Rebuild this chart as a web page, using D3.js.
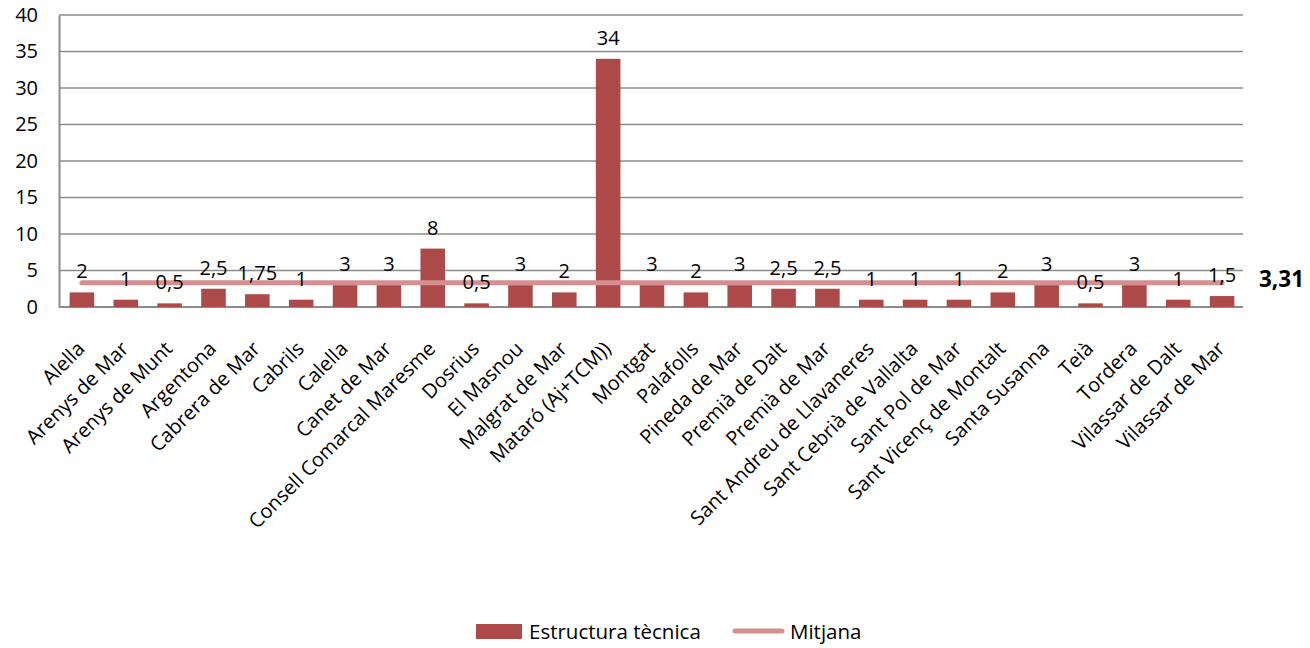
<!DOCTYPE html>
<html><head><meta charset="utf-8">
<script src="https://cdn.jsdelivr.net/npm/d3@7"></script>
<style>body{margin:0;background:#fff;} svg{display:block;font-family:"Open Sans", sans-serif;}</style>
</head><body><svg id="c" width="1310" height="648"></svg>
<script>
const categories = ["Alella","Arenys de Mar","Arenys de Munt","Argentona","Cabrera de Mar","Cabrils","Calella","Canet de Mar","Consell Comarcal  Maresme","Dosrius","El Masnou","Malgrat de Mar","Mataró (Aj+TCM))","Montgat","Palafolls","Pineda de Mar","Premià de Dalt","Premià de Mar","Sant Andreu de Llavaneres","Sant Cebrià de Vallalta","Sant Pol de Mar","Sant Vicenç de Montalt","Santa Susanna","Teià","Tordera","Vilassar  de Dalt","Vilassar  de Mar"];
const estructura = [2,1,0.5,2.5,1.75,1,3,3,8,0.5,3,2,34,3,2,3,2.5,2.5,1,1,1,2,3,0.5,3,1,1.5];
const mitjana = [3.31,3.31,3.31,3.31,3.31,3.31,3.31,3.31,3.31,3.31,3.31,3.31,3.31,3.31,3.31,3.31,3.31,3.31,3.31,3.31,3.31,3.31,3.31,3.31,3.31,3.31,3.31];
const yTicks = [0,5,10,15,20,25,30,35,40];
const seriesNames = ["Estructura tècnica","Mitjana"];

const svg = d3.select("#c");
const L = 59, R = 1243, T = 15, B = 307;
const x = d3.scaleBand().domain(categories).range([L + 1, R + 1]).paddingInner(0.44).paddingOuter(0.22);
const y = d3.scaleLinear().domain([0, 40]).range([B, T]);
const fmt = v => String(v).replace(".", ",");
const barColor = "#ab4a48", lineColor = "#d58f90";
const FONT = "'Open Sans', sans-serif";

// gridlines
svg.append("g").selectAll("line").data(yTicks.filter(d => d > 0)).join("line")
  .attr("x1", L).attr("x2", R).attr("y1", d => y(d)).attr("y2", d => y(d))
  .attr("stroke", "#8c8c8c").attr("stroke-width", 1.3);

// y axis
const ya = svg.append("g").attr("transform", `translate(${L},0)`)
  .call(d3.axisLeft(y).tickValues(yTicks).tickSize(0).tickPadding(21));
ya.select(".domain").attr("stroke", "#8c8c8c").attr("stroke-width", 2);
ya.selectAll("text").attr("font-size", 20).attr("fill", "#000").attr("font-family", FONT);

// x axis
const xa = svg.append("g").attr("transform", `translate(0,${B})`)
  .call(d3.axisBottom(x).tickSize(0).tickPadding(0));
xa.select(".domain").attr("stroke", "#8c8c8c").attr("stroke-width", 2).attr("d", `M${L},0H${R}`);
xa.selectAll("text").attr("font-size", 20).attr("fill", "#000").attr("font-family", FONT)
  .attr("text-anchor", "end").attr("dy", 0)
  .attr("transform", "translate(4,43) rotate(-45)");

// bars
const bw = x.bandwidth();
svg.append("g").selectAll("rect").data(estructura).join("rect")
  .attr("x", (d, i) => x(categories[i])).attr("width", bw)
  .attr("y", d => y(d)).attr("height", d => B - y(d)).attr("fill", barColor);

// mitjana line
const line = d3.line().x((d, i) => x(categories[i]) + bw / 2).y(d => y(d));
svg.append("path").datum(mitjana).attr("d", line).attr("fill", "none")
  .attr("stroke", lineColor).attr("stroke-width", 5).attr("stroke-linecap", "round");

// bar labels
svg.append("g").selectAll("text").data(estructura).join("text")
  .attr("x", (d, i) => x(categories[i]) + bw / 2).attr("y", d => y(d) - 14)
  .attr("text-anchor", "middle").attr("font-size", 20).attr("fill", "#000").text(d => fmt(d));

// mitjana label
svg.append("text").attr("x", 1259).attr("y", y(mitjana[mitjana.length - 1]) + 4)
  .attr("font-size", 22.5).attr("font-weight", "bold").attr("fill", "#000")
  .text(fmt(mitjana[mitjana.length - 1]));

// legend
const lg = svg.append("g");
lg.append("rect").attr("x", 476).attr("y", 624).attr("width", 46).attr("height", 15).attr("fill", barColor);
lg.append("text").attr("x", 529).attr("y", 639).attr("font-size", 20.5).text(seriesNames[0]);
lg.append("line").attr("x1", 735).attr("x2", 782).attr("y1", 631).attr("y2", 631)
  .attr("stroke", lineColor).attr("stroke-width", 5).attr("stroke-linecap", "round");
lg.append("text").attr("x", 790).attr("y", 639).attr("font-size", 20.5).text(seriesNames[1]);
</script></body></html>
